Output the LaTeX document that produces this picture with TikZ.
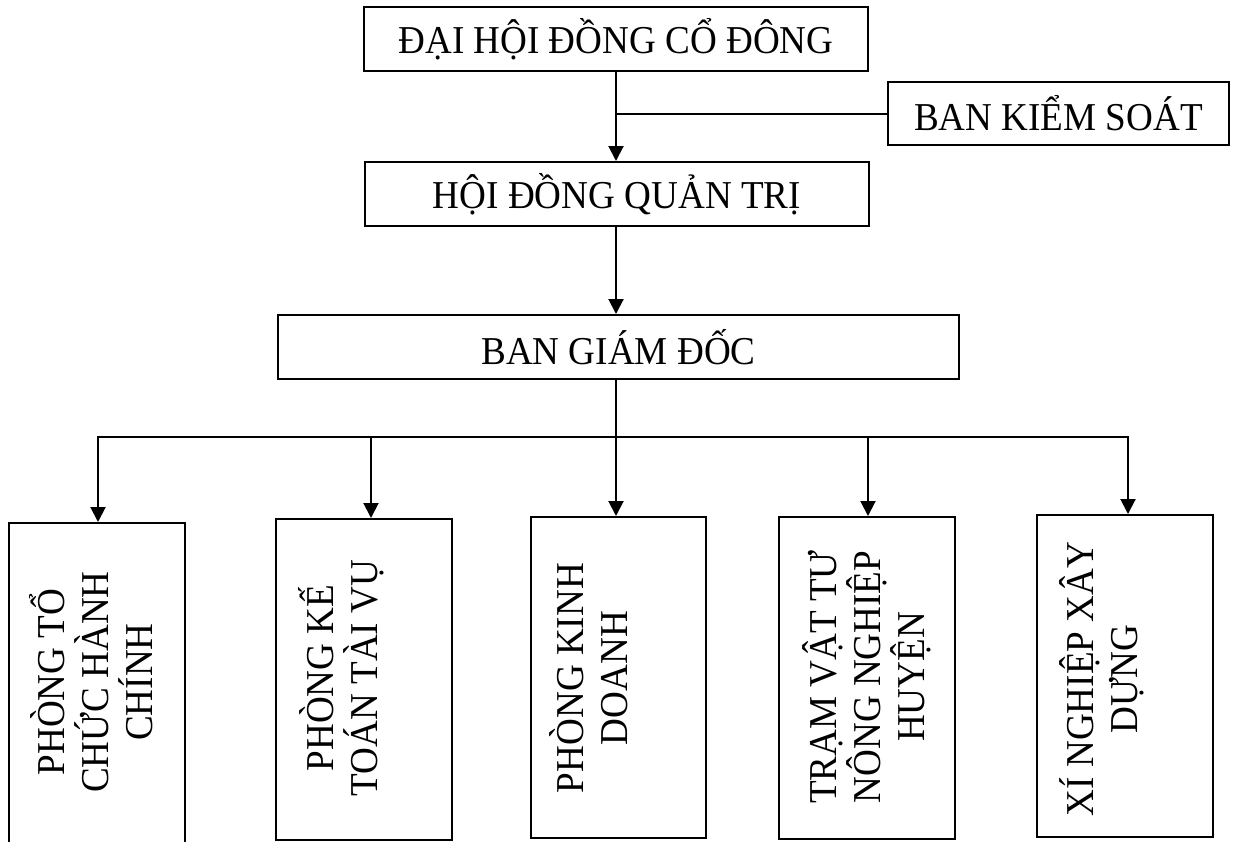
\documentclass[tikz,border=0pt]{standalone}
\usepackage{fontspec}
\setmainfont{Liberation Serif}
\newfontfamily\boxfont[FakeStretch=0.94]{Liberation Serif}
\usetikzlibrary{arrows.meta,calc}
\begin{document}
\begin{tikzpicture}[x=1pt,y=-1pt,
  box/.style={draw,line width=2pt,inner sep=0pt,font=\boxfont\fontsize{39.5}{44}\selectfont},
  lbl/.style={inner sep=0pt,font=\boxfont\fontsize{39.5}{44}\selectfont,align=center,rotate=90},
  conn/.style={line width=2pt,line cap=rect},
  arr/.style={line width=2pt,-{Triangle[width=15pt,length=15pt]}}]
\useasboundingbox (0,0) rectangle (1234,841);
\clip (0,0) rectangle (1234,841);
% top boxes
\node[box,minimum width=504,minimum height=64] (dh) at (616,39) {ĐẠI HỘI ĐỒNG CỔ ĐÔNG};
\node[box,minimum width=341,minimum height=63] (bks) at (1058.5,113.5) {BAN KIỂM SOÁT};
\node[box,minimum width=504,minimum height=64] (hd) at (617,194) {HỘI ĐỒNG QUẢN TRỊ};
\node[box,minimum width=681,minimum height=64] (bgd) at (618.5,347) {BAN GIÁM ĐỐC};
% bottom boxes
\node[box,minimum width=176,minimum height=322] (p1) at (97,684) {};
\node[box,minimum width=176,minimum height=321] (p2) at (364,679.5) {};
\node[box,minimum width=175,minimum height=321] (p3) at (618.5,677.5) {};
\node[box,minimum width=176,minimum height=322] (p4) at (867,678) {};
\node[box,minimum width=176,minimum height=322] (p5) at (1125,676) {};
% labels
\node[lbl] (t1) at (91,682) {PHÒNG TỔ\\CHỨC HÀNH\\CHÍNH};
\node[lbl] (t2) at (341,678) {PHÒNG KẾ\\TOÁN TÀI VỤ};
\node[lbl] (t3) at (589,678) {PHÒNG KINH\\DOANH};
\node[lbl] (t4) at (867,677) {TRẠM VẬT TƯ\\NÔNG NGHIỆP\\HUYỆN};
\node[lbl] (t5) at (1102,679) {XÍ NGHIỆP XÂY\\DỰNG};
% connectors
\coordinate (j) at (616,113.5);
\draw[conn] (bks.west) -- (j);
\draw[arr] (dh.south) -- (dh.south |- hd.north);
\draw[arr] (hd.south -| dh.south) -- (dh.south |- bgd.north);
\coordinate (d1) at (98,437);
\coordinate (d2) at (371,437);
\coordinate (d3) at (616,437);
\coordinate (d4) at (868,437);
\coordinate (d5) at (1128,437);
\draw[conn] (bgd.south -| d3) -- (d3);
\draw[conn] (d1) -- (d5);
\draw[arr] (d1) -- (d1 |- p1.north);
\draw[arr] (d2) -- (d2 |- p2.north);
\draw[arr] (d3) -- (d3 |- p3.north);
\draw[arr] (d4) -- (d4 |- p4.north);
\draw[arr] (d5) -- (d5 |- p5.north);
\end{tikzpicture}
\end{document}
